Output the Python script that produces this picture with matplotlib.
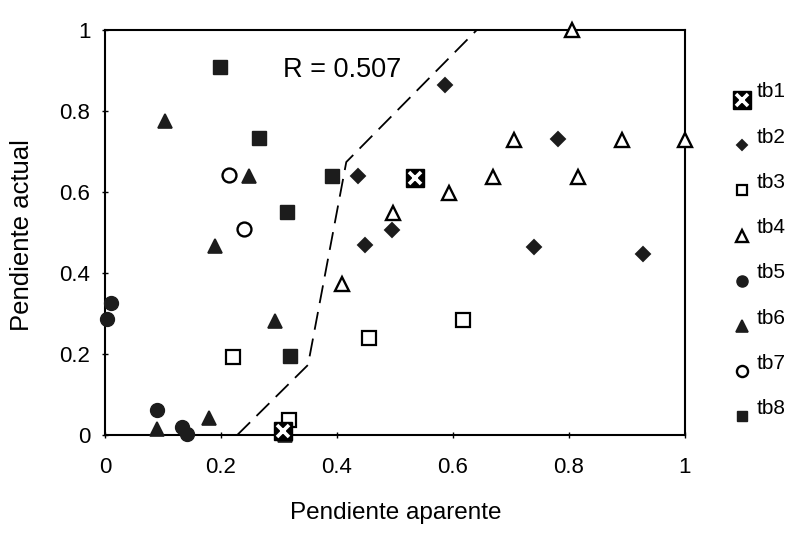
import matplotlib
matplotlib.use("Agg")
import matplotlib.pyplot as plt
from matplotlib.lines import Line2D

plt.rcParams['font.family'] = ['Liberation Sans', 'DejaVu Sans']

# Data: apparent slope (x) vs actual slope (y) per series
tb1_x = [0.535, 0.307]
tb1_y = [0.635, 0.010]
tb2_x = [0.586, 0.781, 0.437, 0.495, 0.448, 0.740, 0.928]
tb2_y = [0.864, 0.730, 0.640, 0.506, 0.469, 0.464, 0.447]
tb3_x = [0.221, 0.455, 0.617, 0.317]
tb3_y = [0.193, 0.240, 0.284, 0.037]
tb4_x = [0.409, 0.497, 0.593, 0.669, 0.705, 0.816, 0.891, 1.000, 0.805]
tb4_y = [0.373, 0.548, 0.598, 0.637, 0.728, 0.637, 0.728, 0.728, 1.000]
tb5_x = [0.010, 0.003, 0.090, 0.133, 0.141]
tb5_y = [0.326, 0.287, 0.062, 0.020, 0.002]
tb6_x = [0.103, 0.248, 0.190, 0.293, 0.179, 0.090, 0.310]
tb6_y = [0.775, 0.640, 0.467, 0.281, 0.042, 0.015, 0.000]
tb7_x = [0.214, 0.240]
tb7_y = [0.642, 0.508]
tb8_x = [0.198, 0.266, 0.391, 0.313, 0.319]
tb8_y = [0.909, 0.733, 0.640, 0.551, 0.195]

# Dashed reference curve
curve_x = [0.228, 0.350, 0.416, 0.641]
curve_y = [0.000, 0.173, 0.674, 1.000]

r_label = "R = 0.507"
x_ticks = [0, 0.2, 0.4, 0.6, 0.8, 1]
x_tick_labels = ["0", "0.2", "0.4", "0.6", "0.8", "1"]
y_ticks = [0, 0.2, 0.4, 0.6, 0.8, 1]
y_tick_labels = ["0", "0.2", "0.4", "0.6", "0.8", "1"]

DARK = "#1c1c1c"

fig = plt.figure(figsize=(7.91, 5.36), dpi=100)
ax = fig.add_axes([105 / 791, (536 - 435) / 536, 580 / 791, 405 / 536])

ax.plot(curve_x, curve_y, color="black", lw=1.3, ls=(0, (10, 5)), zorder=2)

styles = {
    "tb2": dict(marker="D", ms=7, mfc=DARK, mec=DARK, mew=1.4),
    "tb3": dict(marker="s", ms=9.5, mfc="white", mec="black", mew=1.6),
    "tb4": dict(marker="^", ms=10.5, mfc="white", mec="black", mew=1.7),
    "tb5": dict(marker="o", ms=10, mfc=DARK, mec=DARK, mew=1.0),
    "tb6": dict(marker="^", ms=10.5, mfc=DARK, mec=DARK, mew=1.2),
    "tb7": dict(marker="o", ms=10, mfc="white", mec="black", mew=1.7),
    "tb8": dict(marker="s", ms=9.5, mfc=DARK, mec=DARK, mew=1.0),
}
series = {
    "tb2": (tb2_x, tb2_y), "tb3": (tb3_x, tb3_y), "tb4": (tb4_x, tb4_y),
    "tb5": (tb5_x, tb5_y), "tb6": (tb6_x, tb6_y), "tb7": (tb7_x, tb7_y),
    "tb8": (tb8_x, tb8_y),
}
for name, (xs, ys) in series.items():
    ax.plot(xs, ys, ls="none", clip_on=False, zorder=3, **styles[name])

# tb1: black square with a white cross
tb1_sq = dict(marker="s", ms=12.5, mfc="black", mec="black", mew=1.0)
tb1_x_style = dict(marker="x", ms=8.5, mec="white", mew=2.6)
ax.plot(tb1_x, tb1_y, ls="none", clip_on=False, zorder=4, **tb1_sq)
ax.plot(tb1_x, tb1_y, ls="none", clip_on=False, zorder=5, **tb1_x_style)

ax.text(0.307, 0.901, r_label, fontsize=19.5, ha="left", va="center")

ax.set_xlim(0, 1)
ax.set_ylim(0, 1)
ax.set_xticks(x_ticks)
ax.set_xticklabels(x_tick_labels)
ax.set_yticks(y_ticks)
ax.set_yticklabels(y_tick_labels)
ax.tick_params(direction="inout", length=5, width=1, labelsize=16, pad=8)
ax.tick_params(axis="x", pad=13)
for sp in ax.spines.values():
    sp.set_linewidth(1.5)
    sp.set_color("black")

fig.text(396 / 791, 1 - 513 / 536, "Pendiente aparente", fontsize=17.5,
         ha="center", va="center")
fig.text(22 / 791, 1 - 235 / 536, "Pendiente actual", fontsize=18.5,
         ha="center", va="center", rotation=90)

# Legend column at the right
names = ["tb1", "tb2", "tb3", "tb4", "tb5", "tb6", "tb7", "tb8"]
leg_x = 742 / 791
for i, name in enumerate(names):
    ypix = 100 + i * 45.2
    yf = 1 - ypix / 536
    if name == "tb1":
        fig.add_artist(Line2D([leg_x], [yf], transform=fig.transFigure,
                              ls="none", **tb1_sq))
        fig.add_artist(Line2D([leg_x], [yf], transform=fig.transFigure,
                              ls="none", **tb1_x_style))
    else:
        st = dict(styles[name])
        st["ms"] = st["ms"] * 0.8
        fig.add_artist(Line2D([leg_x], [yf], transform=fig.transFigure,
                              ls="none", **st))
    fig.text(757 / 791, 1 - (ypix - 8) / 536, name, fontsize=15,
             ha="left", va="center")

fig.savefig("out.png", dpi=100)
